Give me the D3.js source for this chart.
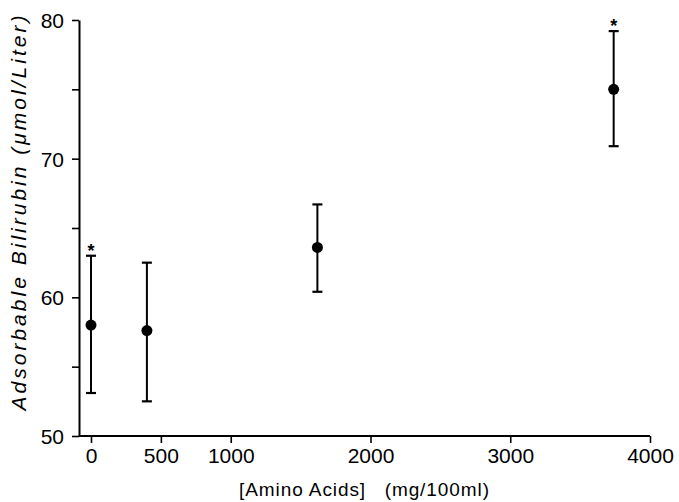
<!DOCTYPE html>
<html><head><meta charset="utf-8">
<script src="https://cdn.jsdelivr.net/npm/d3@7"></script>
<style>body{margin:0;background:#fff;} text{font-family:"Liberation Sans",Arial,sans-serif;fill:#000;}</style>
</head><body>
<svg id="c" width="679" height="502"></svg>
<script>
const concentrations = [0, 400, 1620, 3740];
const means = [58.0, 57.6, 63.6, 75.0];
const upper = [63.0, 62.5, 66.7, 79.2];
const lower = [53.1, 52.5, 60.4, 70.9];
const significant = [true, false, false, true];
const xTicks = [0, 500, 1000, 2000, 3000, 4000];
const yMajor = [50, 60, 70, 80];
const yMinor = [55, 65, 75];

const svg = d3.select("#c");
const x = d3.scaleLinear().domain([0, 4000]).range([91, 650]);
const y = d3.scaleLinear().domain([50, 80]).range([436, 20]);
const axisX = 79;

// y axis
const ya = svg.append("g").attr("transform", `translate(${axisX},0)`)
  .call(d3.axisLeft(y).tickValues(yMajor.concat(yMinor)).tickSize(7).tickSizeOuter(0)
    .tickFormat(d => yMajor.includes(d) ? d : ""));
ya.select(".domain").attr("stroke-width", 2);
ya.selectAll(".tick line").attr("stroke-width", 1.6);
ya.selectAll(".tick text").attr("font-size", 21).attr("x", -15).attr("dy", "0.36em");

// x axis
const xa = svg.append("g").attr("transform", `translate(0,${y(50)})`)
  .call(d3.axisBottom(x).tickValues(xTicks).tickSize(7).tickSizeOuter(0).tickFormat(d3.format("d")));
xa.select(".domain").attr("d", `M${axisX},0H${x(4000)}`).attr("stroke-width", 1.8);
xa.selectAll(".tick line").attr("stroke-width", 1.6);
xa.selectAll(".tick text").attr("font-size", 21).attr("y", 12).attr("dy", "0.71em");

// axis titles
svg.append("text").attr("x", 364).attr("y", 496).attr("text-anchor", "middle")
  .attr("font-size", 19).attr("xml:space", "preserve")
  .attr("textLength", 250).attr("lengthAdjust", "spacing")
  .text("[Amino Acids]   (mg/100ml)");
svg.append("text").attr("transform", `translate(26,213) rotate(-90)`)
  .attr("text-anchor", "middle").attr("font-size", 21).attr("font-style", "italic")
  .attr("textLength", 395).attr("lengthAdjust", "spacing")
  .text("Adsorbable Bilirubin (\u03BCmol/Liter)");

// error bars
const g = svg.append("g");
const idx = d3.range(concentrations.length);
g.selectAll("line.v").data(idx).join("line")
  .attr("x1", i => x(concentrations[i])).attr("x2", i => x(concentrations[i]))
  .attr("y1", i => y(upper[i])).attr("y2", i => y(lower[i]))
  .attr("stroke", "#000").attr("stroke-width", 2);
[upper, lower].forEach(arr => {
  g.selectAll(null).data(idx).join("line")
    .attr("x1", i => x(concentrations[i]) - 5).attr("x2", i => x(concentrations[i]) + 5)
    .attr("y1", i => y(arr[i])).attr("y2", i => y(arr[i]))
    .attr("stroke", "#000").attr("stroke-width", 2.2);
});
g.selectAll("circle").data(idx).join("circle")
  .attr("cx", i => x(concentrations[i])).attr("cy", i => y(means[i]))
  .attr("r", 5.5).attr("fill", "#000");
g.selectAll("text.star").data(idx.filter(i => significant[i])).join("text")
  .attr("x", i => x(concentrations[i])).attr("y", i => y(upper[i]) + 1)
  .attr("text-anchor", "middle").attr("font-size", 18).attr("font-weight", "bold")
  .text("*");
</script>
</body></html>
